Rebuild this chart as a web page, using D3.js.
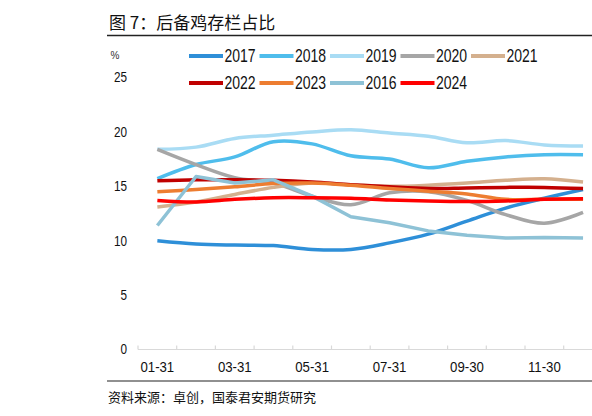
<!DOCTYPE html>
<html>
<head>
<meta charset="utf-8">
<script src="https://cdn.jsdelivr.net/npm/d3@7"></script>
<style>
  html, body { margin: 0; padding: 0; background: #fff; }
  svg { display: block; }
  .num { font-family: "Liberation Sans", Arial, sans-serif; }
  .cjk { font-family: "Noto Sans CJK SC", "Noto Sans", sans-serif; }
</style>
</head>
<body>
<svg id="chart" width="592" height="416"></svg>
<script>
const months = ["01-31","02-28","03-31","04-30","05-31","06-30","07-31","08-31","09-30","10-31","11-30","12-31"];
const shownTicks = ["01-31","03-31","05-31","07-31","09-30","11-30"];
const yTicks = [0, 5, 10, 15, 20, 25];

const s2017 = [10.0, 9.7, 9.6, 9.55, 9.2, 9.2, 9.8, 10.6, 11.8, 13.0, 13.9, 14.7];
const s2018 = [15.7, 17.0, 17.7, 19.1, 18.9, 17.8, 17.5, 16.7, 17.3, 17.7, 17.9, 17.9];
const s2019 = [18.4, 18.6, 19.4, 19.7, 20.0, 20.2, 19.9, 19.6, 19.0, 19.2, 18.8, 18.7];
const s2020 = [18.4, 17.0, 15.8, 15.3, 14.1, 13.3, 14.4, 14.5, 13.7, 12.4, 11.6, 12.6];
const s2021 = [13.1, 13.55, 14.25, 14.9, 15.3, 15.15, 15.0, 15.1, 15.3, 15.55, 15.7, 15.4];
const s2022 = [15.5, 15.6, 15.6, 15.55, 15.4, 15.15, 14.95, 14.8, 14.85, 14.9, 14.9, 14.8];
const s2023 = [14.5, 14.7, 14.95, 15.25, 15.3, 15.1, 14.8, 14.55, 14.3, 13.8, 13.8, 13.8];
const s2016 = [11.4, 15.9, 15.3, 15.6, 14.1, 12.2, 11.65, 10.9, 10.5, 10.25, 10.3, 10.25];
const s2024 = [13.7, 13.55, 13.8, 13.95, 13.95, 13.9, 13.75, 13.65, 13.6, 13.65, 13.8, 13.85];

const seriesNames = ["2017","2018","2019","2020","2021","2022","2023","2016","2024"];
const seriesValues = [s2017, s2018, s2019, s2020, s2021, s2022, s2023, s2016, s2024];
const seriesColors = ["#2E8FD8","#4FBDEC","#A9DCF4","#A6A6A6","#D4B08E","#C00000","#ED7D31","#8EC2D6","#FF0000"];
const seriesSmooth = [true, true, true, true, true, true, true, false, true];

const svg = d3.select("#chart");

// Title
svg.append("text").attr("class", "cjk")
  .attr("x", 109).attr("y", 29)
  .attr("font-size", 17).attr("fill", "#111")
  .text("图 7：后备鸡存栏占比");
svg.append("line").attr("x1", 107).attr("x2", 592).attr("y1", 35.5).attr("y2", 35.5)
  .attr("stroke", "#222").attr("stroke-width", 1.5);

// Scales
const x = d3.scaleBand().domain(months).range([138, 138 + 12 * 38.7]);
const y = d3.scaleLinear().domain([0, 25]).range([349.5, 77.5]);

// Y axis labels (no line)
const yAxis = d3.axisLeft(y).tickValues(yTicks).tickSize(0).tickPadding(0);
const gy = svg.append("g").attr("transform", "translate(127,0)").call(yAxis);
gy.select(".domain").remove();
gy.selectAll("text").attr("class", "num").attr("font-size", 14).attr("fill", "#111")
  .attr("font-family", null).attr("transform", "scale(0.84,1)");
svg.append("text").attr("class", "num").attr("x", 115).attr("y", 59)
  .attr("font-size", 10).attr("fill", "#333").attr("text-anchor", "middle").text("%");

// X axis
const xAxis = d3.axisBottom(x).tickSize(0).tickPadding(0).tickFormat(d => shownTicks.includes(d) ? d : "");
const gx = svg.append("g").attr("transform", "translate(0,349.5)").call(xAxis);
gx.select(".domain").attr("stroke", "#D9D9D9").attr("stroke-width", 1.2)
  .attr("d", `M${x.range()[0]},0H${x.range()[1]}`);
gx.selectAll("text").attr("class", "num").attr("font-size", 15).attr("fill", "#111")
  .attr("font-family", null).attr("dy", "0").attr("y", 23).attr("transform", "scale(0.88,1)");
// tick marks at band boundaries (upward)
const bounds = months.map(m => x(m)).concat([x.range()[1]]);
gx.selectAll("line.bt").data(bounds).enter().append("line").attr("class", "bt")
  .attr("x1", d => d).attr("x2", d => d).attr("y1", 0).attr("y2", -4)
  .attr("stroke", "#D9D9D9").attr("stroke-width", 1.2);

// Lines
const cx = m => x(m) + x.bandwidth() / 2;
seriesValues.forEach((vals, i) => {
  const line = d3.line()
    .x((d, j) => cx(months[j]))
    .y(d => y(d))
    .curve(seriesSmooth[i] ? d3.curveCatmullRom.alpha(0.5) : d3.curveLinear);
  svg.append("path").datum(vals)
    .attr("d", line).attr("fill", "none")
    .attr("stroke", seriesColors[i]).attr("stroke-width", 3.5)
    .attr("stroke-linejoin", "round").attr("stroke-linecap", "butt");
});

// Legend
const legX = [189, 259.5, 330, 400.5, 471];
const legY = [56, 83];
seriesNames.forEach((name, i) => {
  const r = Math.floor(i / 5), c = i % 5;
  const g = svg.append("g").attr("transform", `translate(${legX[c]},${legY[r]})`);
  g.append("line").attr("x1", 0).attr("x2", 34).attr("y1", 0).attr("y2", 0)
    .attr("stroke", seriesColors[i]).attr("stroke-width", 4);
  g.append("text").attr("class", "num")
    .attr("transform", "translate(35.5,6.3) scale(0.8,1)")
    .attr("font-size", 17.5).attr("fill", "#111").text(name);
});

// Footer
svg.append("line").attr("x1", 107).attr("x2", 592).attr("y1", 381).attr("y2", 381)
  .attr("stroke", "#222").attr("stroke-width", 1.2);
svg.append("text").attr("class", "cjk")
  .attr("x", 108).attr("y", 402)
  .attr("font-size", 13).attr("fill", "#111")
  .text("资料来源：卓创，国泰君安期货研究");
</script>
</body>
</html>
